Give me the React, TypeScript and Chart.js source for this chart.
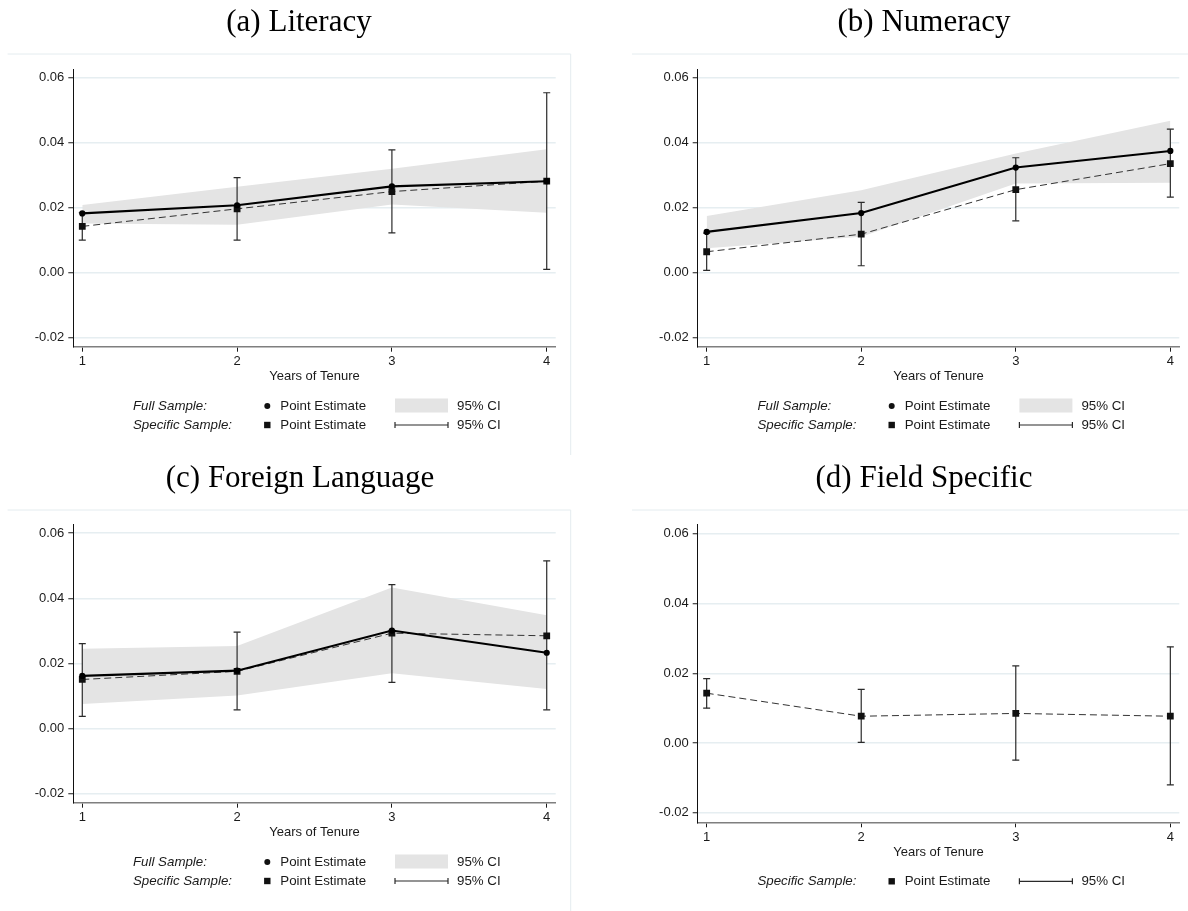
import React, { useEffect, useRef } from 'react';
import { Chart, registerables } from 'chart.js';

Chart.register(...registerables);

// ---------------- data ----------------
const years = [1, 2, 3, 4];
const yTicks = [-0.02, 0, 0.02, 0.04, 0.06];
const xTitle = 'Years of Tenure';
const panelTitles = ['(a) Literacy', '(b) Numeracy', '(c) Foreign Language', '(d) Field Specific'];
const legendLabels = ['Full Sample:', 'Specific Sample:'];
const legendEstimate = 'Point Estimate';
const legendCI = '95% CI';

// (a) Literacy
const litFull = [0.0183, 0.0208, 0.0266, 0.0282];
const litFullLo = [0.0152, 0.0148, 0.021, 0.0185];
const litFullHi = [0.0209, 0.0265, 0.032, 0.038];
const litSpec = [0.0143, 0.0197, 0.025, 0.0282];
const litSpecLo = [0.0101, 0.0101, 0.0123, 0.0011];
const litSpecHi = [0.0185, 0.0293, 0.0378, 0.0554];

// (b) Numeracy
const numFull = [0.0126, 0.0184, 0.0324, 0.0375];
const numFullLo = [0.0076, 0.0111, 0.0275, 0.0277];
const numFullHi = [0.0175, 0.0254, 0.0367, 0.0468];
const numSpec = [0.0065, 0.0119, 0.0256, 0.0336];
const numSpecLo = [0.0008, 0.0022, 0.016, 0.0233];
const numSpecHi = [0.0122, 0.0217, 0.0354, 0.0442];

// (c) Foreign Language
const forFull = [0.0162, 0.0178, 0.0301, 0.0233];
const forFullLo = [0.0076, 0.0102, 0.017, 0.0122];
const forFullHi = [0.0245, 0.0254, 0.0433, 0.0348];
const forSpec = [0.0151, 0.0176, 0.0293, 0.0285];
const forSpecLo = [0.0038, 0.0058, 0.0142, 0.0058];
const forSpecHi = [0.0261, 0.0296, 0.0442, 0.0515];

// (d) Field Specific
const fldSpec = [0.0143, 0.0077, 0.0085, 0.0077];
const fldSpecLo = [0.01, 0.0002, -0.0049, -0.012];
const fldSpecHi = [0.0185, 0.0154, 0.0221, 0.0276];

// ---------------- style ----------------
const X_MIN = 0.942;
const X_MAX = 4.058;
const Y_MIN = -0.0227;
const Y_MAX = 0.0627;
const BAND = '#e4e4e4';
const GRID = '#e6eef1';
const BOX = '#e4ecef';
const INK = '#1a1a1a';
const ERR = '#2a2a2a';
const SANS = '"Liberation Sans", Arial, sans-serif';
const SERIF = '"Liberation Serif", "Times New Roman", serif';

type Series = { est: number[]; lo: number[]; hi: number[] };
type PanelCfg = {
  title: string;
  left: number;
  top: number;
  w: number;
  h: number;
  area: { l: number; r: number; t: number; b: number };
  titleX: number;
  titleY: number;
  boxLines: number[][];
  full?: Series;
  spec: Series;
};

const panels: PanelCfg[] = [
  {
    title: panelTitles[0], left: 0, top: 0, w: 600, h: 456,
    area: { l: 73.3, r: 555.7, t: 69, b: 346.7 }, titleX: 299, titleY: 31,
    boxLines: [[7.6, 54, 570.7, 54], [570.7, 54, 570.7, 455]],
    full: { est: litFull, lo: litFullLo, hi: litFullHi },
    spec: { est: litSpec, lo: litSpecLo, hi: litSpecHi },
  },
  {
    title: panelTitles[1], left: 600, top: 0, w: 588, h: 456,
    area: { l: 97.7, r: 579.3, t: 69, b: 346.7 }, titleX: 324, titleY: 31,
    boxLines: [[32, 54, 588, 54]],
    full: { est: numFull, lo: numFullLo, hi: numFullHi },
    spec: { est: numSpec, lo: numSpecLo, hi: numSpecHi },
  },
  {
    title: panelTitles[2], left: 0, top: 456, w: 600, h: 455,
    area: { l: 73.3, r: 555.7, t: 68.3, b: 346.7 }, titleX: 300, titleY: 31,
    boxLines: [[7.6, 54, 570.7, 54], [570.7, 54, 570.7, 455]],
    full: { est: forFull, lo: forFullLo, hi: forFullHi },
    spec: { est: forSpec, lo: forSpecLo, hi: forSpecHi },
  },
  {
    title: panelTitles[3], left: 600, top: 456, w: 588, h: 455,
    area: { l: 97.7, r: 579.3, t: 68.3, b: 366.3 }, titleX: 324, titleY: 31,
    boxLines: [[32, 54, 588, 54]],
    spec: { est: fldSpec, lo: fldSpecLo, hi: fldSpecHi },
  },
];

const Y_SCALE_W = 40;
const X_SCALE_H = 40;

function makeDeco(p: PanelCfg) {
  return {
    id: 'panelDeco',
    beforeDraw(chart: any) {
      const ctx = chart.ctx;
      ctx.save();
      ctx.fillStyle = '#fff';
      ctx.fillRect(0, 0, chart.width, chart.height);
      ctx.strokeStyle = BOX;
      ctx.lineWidth = 1;
      for (const [x1, y1, x2, y2] of p.boxLines) {
        ctx.beginPath();
        ctx.moveTo(x1, y1);
        ctx.lineTo(x2, y2);
        ctx.stroke();
      }
      ctx.restore();
    },
    afterDraw(chart: any) {
      const ctx = chart.ctx;
      const { left, bottom } = chart.chartArea;
      ctx.save();
      // panel title
      ctx.font = `31px ${SERIF}`;
      ctx.fillStyle = '#000';
      ctx.textAlign = 'center';
      ctx.textBaseline = 'alphabetic';
      ctx.fillText(p.title, p.titleX, p.titleY);

      // legend
      const rows: { label: string; kind: 'full' | 'spec' }[] = [];
      if (p.full) rows.push({ label: legendLabels[0], kind: 'full' });
      rows.push({ label: legendLabels[1], kind: 'spec' });
      rows.forEach((row, k) => {
        const y = bottom + (rows.length === 1 ? 59 : k === 0 ? 59.3 : 78.3);
        ctx.textAlign = 'left';
        ctx.textBaseline = 'middle';
        ctx.fillStyle = INK;
        ctx.font = `italic 13.3px ${SANS}`;
        ctx.fillText(row.label, left + 59.7, y);
        ctx.fillStyle = '#111';
        if (row.kind === 'full') {
          ctx.beginPath();
          ctx.arc(left + 194, y, 3, 0, Math.PI * 2);
          ctx.fill();
        } else {
          ctx.fillRect(left + 194 - 3.2, y - 3.2, 6.4, 6.4);
        }
        ctx.fillStyle = INK;
        ctx.font = `13.3px ${SANS}`;
        ctx.fillText(legendEstimate, left + 207, y);
        const x1 = left + 321.7;
        const x2 = left + 374.7;
        if (row.kind === 'full') {
          ctx.fillStyle = BAND;
          ctx.fillRect(x1, y - 7.5, x2 - x1, 14);
        } else {
          ctx.strokeStyle = ERR;
          ctx.lineWidth = 1.2;
          ctx.beginPath();
          ctx.moveTo(x1, y);
          ctx.lineTo(x2, y);
          ctx.moveTo(x1, y - 3);
          ctx.lineTo(x1, y + 3);
          ctx.moveTo(x2, y - 3);
          ctx.lineTo(x2, y + 3);
          ctx.stroke();
        }
        ctx.fillStyle = INK;
        ctx.fillText(legendCI, left + 383.7, y);
      });
      ctx.restore();
    },
  };
}

function buildDatasets(p: PanelCfg) {
  const ds: any[] = [];
  if (p.full) {
    const f = p.full;
    ds.push({
      label: 'Full CI lower',
      data: years.map((x, i) => ({ x, y: f.lo[i] })),
      borderColor: 'rgba(0,0,0,0)',
      borderWidth: 0,
      pointRadius: 0,
      fill: false,
      order: 10,
    });
    ds.push({
      label: 'Full CI upper',
      data: years.map((x, i) => ({ x, y: f.hi[i] })),
      borderColor: 'rgba(0,0,0,0)',
      borderWidth: 0,
      pointRadius: 0,
      backgroundColor: BAND,
      fill: '-1',
      order: 10,
    });
  }
  const s = p.spec;
  years.forEach((x, i) => {
    ds.push({
      label: 'Specific CI ' + x,
      data: [{ x, y: s.lo[i] }, { x, y: s.hi[i] }],
      borderColor: ERR,
      borderWidth: 1.2,
      pointStyle: 'line',
      pointRadius: 3.5,
      pointBorderColor: ERR,
      pointBorderWidth: 1.2,
      fill: false,
      order: 8,
    });
  });
  ds.push({
    label: 'Specific Point Estimate',
    data: years.map((x, i) => ({ x, y: s.est[i] })),
    borderColor: '#333',
    borderWidth: 1,
    borderDash: [7, 4],
    pointStyle: 'rect',
    pointRadius: 4.8,
    pointBackgroundColor: '#111',
    pointBorderColor: '#111',
    pointBorderWidth: 0,
    fill: false,
    order: 6,
  });
  if (p.full) {
    const f = p.full;
    ds.push({
      label: 'Full Point Estimate',
      data: years.map((x, i) => ({ x, y: f.est[i] })),
      borderColor: '#000',
      borderWidth: 2.1,
      pointStyle: 'circle',
      pointRadius: 3.1,
      pointBackgroundColor: '#000',
      pointBorderColor: '#000',
      pointBorderWidth: 0,
      fill: false,
      order: 4,
    });
  }
  return ds;
}

function Panel({ cfg }: { cfg: PanelCfg }) {
  const ref = useRef<HTMLCanvasElement | null>(null);
  useEffect(() => {
    if (!ref.current) return;
    const a = cfg.area;
    const chart = new Chart(ref.current, {
      type: 'line',
      data: { datasets: buildDatasets(cfg) },
      options: {
        animation: false,
        responsive: false,
        devicePixelRatio: 1,
        events: [],
        layout: {
          padding: {
            left: a.l - Y_SCALE_W,
            right: cfg.w - a.r,
            top: a.t,
            bottom: cfg.h - a.b - X_SCALE_H,
          },
        },
        elements: { line: { tension: 0 } },
        plugins: {
          legend: { display: false },
          tooltip: { enabled: false },
          title: { display: false },
        },
        scales: {
          x: {
            type: 'linear',
            min: X_MIN,
            max: X_MAX,
            afterBuildTicks: (sc: any) => {
              sc.ticks = years.map((v) => ({ value: v }));
            },
            afterFit: (sc: any) => {
              sc.height = X_SCALE_H;
            },
            ticks: {
              callback: (v: any) => String(v),
              font: { family: SANS, size: 13 },
              color: INK,
              padding: 2,
              maxRotation: 0,
              autoSkip: false,
            },
            grid: {
              drawOnChartArea: false,
              drawTicks: true,
              tickLength: 5,
              tickColor: INK,
              tickWidth: 1,
            },
            border: { display: true, color: '#7f7f7f', width: 1.5 },
            title: {
              display: true,
              text: xTitle,
              font: { family: SANS, size: 13 },
              color: INK,
              padding: { top: 0, bottom: 2.2 },
            },
          },
          y: {
            type: 'linear',
            min: Y_MIN,
            max: Y_MAX,
            afterBuildTicks: (sc: any) => {
              sc.ticks = yTicks.map((v) => ({ value: v }));
            },
            afterFit: (sc: any) => {
              sc.width = Y_SCALE_W;
            },
            ticks: {
              callback: (v: any) => Number(v).toFixed(2),
              font: { family: SANS, size: 13 },
              color: INK,
              padding: 4,
            },
            grid: {
              color: GRID,
              lineWidth: 1.5,
              drawTicks: true,
              tickLength: 5,
              tickColor: INK,
              tickWidth: 1,
            },
            border: { display: true, color: '#111', width: 1 },
          },
        },
      },
      plugins: [makeDeco(cfg)],
    } as any);
    return () => chart.destroy();
  }, [cfg]);
  return (
    <canvas
      ref={ref}
      width={cfg.w}
      height={cfg.h}
      style={{ position: 'absolute', left: cfg.left, top: cfg.top, width: cfg.w, height: cfg.h }}
    />
  );
}

export default function App() {
  return (
    <div
      style={{
        position: 'absolute',
        left: 0,
        top: 0,
        width: 1188,
        height: 911,
        overflow: 'hidden',
        background: '#fff',
      }}
    >
      {panels.map((p) => (
        <Panel key={p.title} cfg={p} />
      ))}
    </div>
  );
}
